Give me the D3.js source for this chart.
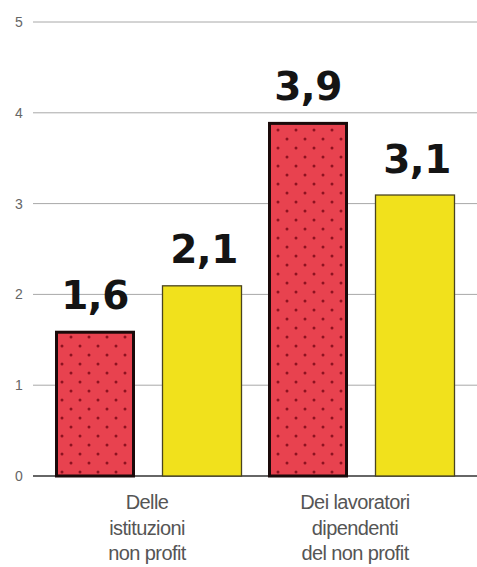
<!DOCTYPE html>
<html><head><meta charset="utf-8">
<script src="https://cdn.jsdelivr.net/npm/d3@7"></script>
<style>html,body{margin:0;padding:0;background:#fff;}svg{display:block;}</style>
</head><body>
<script>
const categories = [["Delle","istituzioni","non profit"],["Dei lavoratori","dipendenti","del non profit"]];
const seriesRed = [1.6, 3.9];
const seriesYellow = [2.1, 3.1];
const valueLabels = [["1,6","2,1"],["3,9","3,1"]];
const yTicks = [0,1,2,3,4,5];

const W = 477, H = 567;
const svg = d3.select("body").append("svg").attr("width", W).attr("height", H);

const defs = svg.append("defs");
const pat = defs.append("pattern").attr("id","dots").attr("patternUnits","userSpaceOnUse")
  .attr("width",18).attr("height",18).attr("x",58).attr("y",0);
pat.append("rect").attr("width",18).attr("height",18).attr("fill","#e8424f");
pat.append("circle").attr("cx",4).attr("cy",4).attr("r",1.5).attr("fill","#8e1220");
pat.append("circle").attr("cx",13).attr("cy",13).attr("r",1.5).attr("fill","#8e1220");

const y = d3.scaleLinear().domain([0,5]).range([476,22]);
const groupX = d3.scaleLinear().domain([0,1]).range([55,268]);
const barW = 80, gap = 27;

const grid = svg.append("g");
yTicks.forEach(t => {
  grid.append("line").attr("x1",33).attr("x2",W).attr("y1",y(t)).attr("y2",y(t))
    .attr("stroke", t===0 ? "#333" : "#a8a8a8").attr("stroke-width", t===0 ? 1.6 : 1);
  grid.append("text").attr("x",19).attr("y",y(t)+5).attr("text-anchor","middle")
    .attr("font-family","Liberation Sans, sans-serif").attr("font-size",14)
    .attr("fill","#666").text(t);
});

const g = svg.append("g");
categories.forEach((c,i) => {
  const xr = groupX(i);
  const xyel = xr + barW + gap;
  g.append("rect").attr("x",xr+1.5).attr("y",y(seriesRed[i])+1.5).attr("width",barW-3)
    .attr("height",y(0)-y(seriesRed[i])-1.5).attr("fill","url(#dots)")
    .attr("stroke","#1a0a0a").attr("stroke-width",3);
  g.append("rect").attr("x",xyel+0.5).attr("y",y(seriesYellow[i])+0.5).attr("width",barW-1)
    .attr("height",y(0)-y(seriesYellow[i])-0.5).attr("fill","#f1e11c")
    .attr("stroke","#4a4420").attr("stroke-width",1.3);
  const lbl = (cx, v, t) => g.append("text").attr("x",cx).attr("y",y(v)-22)
    .attr("text-anchor","middle").attr("font-family","DejaVu Sans, sans-serif")
    .attr("font-weight","bold").attr("font-size",39).attr("letter-spacing",-0.5)
    .attr("fill","#141414").text(t);
  lbl(xr+barW/2, seriesRed[i], valueLabels[i][0]);
  lbl(xyel+barW/2+2, seriesYellow[i], valueLabels[i][1]);
  const cx = i===0 ? 147 : 355;
  c.forEach((line,k) => {
    g.append("text").attr("x",cx).attr("y",509+k*25.5).attr("text-anchor","middle")
      .attr("font-family","Liberation Sans, sans-serif").attr("font-size",20)
      .attr("letter-spacing",-0.6)
      .attr("fill","#555").text(line);
  });
});
</script>
</body></html>
